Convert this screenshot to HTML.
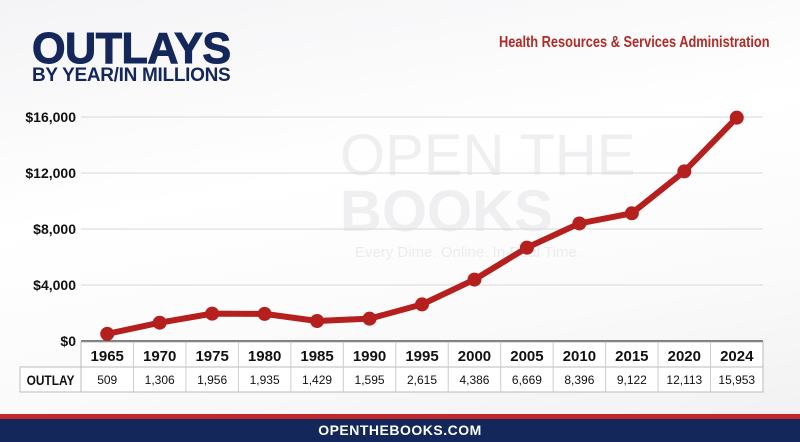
<!DOCTYPE html>
<html><head><meta charset="utf-8"><style>
body{margin:0;width:800px;height:442px;overflow:hidden;background:linear-gradient(170deg,#f4f4f6 0%,#fff 40%,#fafafa 70%,#f0f0f2 100%);font-family:"Liberation Sans",sans-serif;position:relative}
.t{position:absolute;white-space:nowrap}
</style></head><body>
<div class="t" style="left:32px;top:24px;font-size:44px;font-weight:bold;color:#14275a;transform:scaleX(0.98);transform-origin:left;letter-spacing:-0.5px;-webkit-text-stroke:1px #14275a">OUTLAYS</div>
<div class="t" style="left:32px;top:65px;font-size:19px;font-weight:bold;color:#14275a;letter-spacing:-0.3px">BY YEAR/IN MILLIONS</div>
<div class="t" style="left:499px;top:34px;font-size:16px;font-weight:bold;color:#b22a25;transform:scaleX(0.80);transform-origin:left">Health Resources &amp; Services Administration</div>
<div class="t" style="left:340px;top:128px;font-size:58px;color:#efeff1;line-height:56px">OPEN THE<br><b>BOOKS</b></div>
<div class="t" style="left:355px;top:244px;font-size:15px;color:#ececee">Every Dime. Online. In Real Time.</div>
<svg id="c" width="800" height="442" style="position:absolute;left:0;top:0"></svg>
<div style="position:absolute;left:0;top:414px;width:800px;height:5px;background:#c0282a"></div>
<div style="position:absolute;left:0;top:419px;width:800px;height:23px;background:#14275a;color:#fff;font-weight:bold;font-size:14px;text-align:center;line-height:23px;letter-spacing:0.5px">OPENTHEBOOKS.COM</div>
<script>
const years=["1965","1970","1975","1980","1985","1990","1995","2000","2005","2010","2015","2020","2024"];
const outlays=[509,1306,1956,1935,1429,1595,2615,4386,6669,8396,9122,12113,15953];
const yTicks=[0,4000,8000,12000,16000];
const yTickLabels=["$0","$4,000","$8,000","$12,000","$16,000"];
const ns="http://www.w3.org/2000/svg",svg=document.getElementById('c');
const L=81,R=763,colW=(R-L)/years.length,y0=341,y1=117,maxV=16000;
const x=i=>L+colW*(i+0.5), y=v=>y0-(v/maxV)*(y0-y1);
function mk(t,a,p){const e=document.createElementNS(ns,t);for(const k in a)e.setAttribute(k,a[k]);(p||svg).appendChild(e);return e;}
yTicks.forEach((v,i)=>{
 const g=mk('line',{x1:L,x2:R,y1:y(v),y2:y(v),stroke:v===0?'#555':'#d8d8dc','stroke-width':v===0?1.5:1});
 
 
 const t=mk('text',{x:76,y:y(v)+5,'text-anchor':'end','font-size':14,'font-weight':'bold',fill:'#111'});
 t.textContent=yTickLabels[i];
 
 
});
const tb={fill:'#fff',stroke:'#bbb','stroke-width':1};
mk('rect',Object.assign({x:L,y:342,width:R-L,height:25},tb));
mk('rect',Object.assign({x:20,y:367,width:R-20,height:25},tb));
mk('line',{x1:L,x2:L,y1:342,y2:392,stroke:'#bbb'});
const lab=mk('text',{x:50.5,y:385,'text-anchor':'middle','font-size':14,'font-weight':'bold',fill:'#111',transform:'translate(50.5 0) scale(0.85 1) translate(-50.5 0)'});
lab.textContent='OUTLAY';


years.forEach((yr,i)=>{
 if(i>0)mk('line',{x1:L+colW*i,x2:L+colW*i,y1:342,y2:392,stroke:'#ccc'});
 const t=mk('text',{x:x(i),y:361,'text-anchor':'middle','font-size':15,'font-weight':'bold',fill:'#111'});
 t.textContent=yr;
 
 
 const v=mk('text',{x:x(i),y:384,'text-anchor':'middle','font-size':12,fill:'#111'});
 v.textContent=outlays[i].toLocaleString('en-US');
 
 
});
const pts=outlays.map((v,i)=>x(i)+','+y(v)).join(' ');
const pl=mk('polyline',{points:pts,fill:'none',stroke:'#b5201f','stroke-width':6,'stroke-linejoin':'round','stroke-linecap':'round'});


outlays.forEach((v,i)=>{
 const c=mk('circle',{cx:x(i),cy:y(v),r:7,fill:'#b5201f'});
 
 
});
</script>
</body></html>
